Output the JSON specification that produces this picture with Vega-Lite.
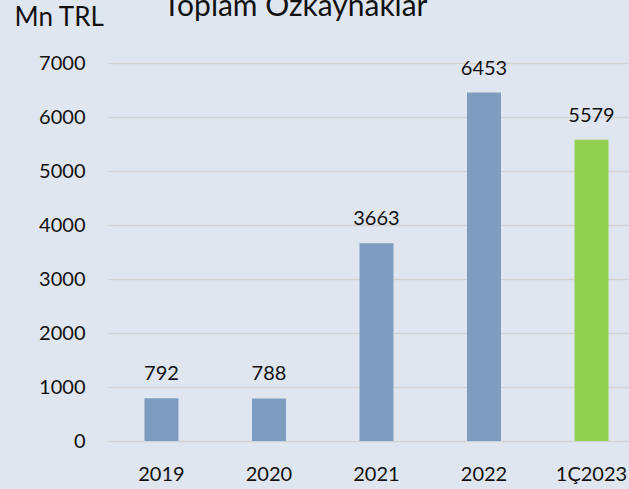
{
  "$schema": "https://vega.github.io/schema/vega-lite/v6.json",
  "autosize": "none",
  "width": 521,
  "height": 378,
  "padding": {"left": 108, "top": 63, "right": 0, "bottom": 48},
  "background": "#e0e6ef",
  "config": {
    "view": {"stroke": null},
    "font": "Lato",
    "axis": {"labelFont": "Lato", "titleFont": "Lato", "labelColor": "#111111", "titleColor": "#111111"}
  },
  "title": {
    "text": "Toplam Özkaynaklar",
    "anchor": "start",
    "frame": "group",
    "fontSize": 30,
    "font": "Lato",
    "fontWeight": "normal",
    "color": "#111111",
    "baseline": "alphabetic",
    "dx": 55,
    "dy": 42,
    "offset": 0
  },
  "data": {
    "values": [
      {"period": "2019", "value": 792, "type": "annual"},
      {"period": "2020", "value": 788, "type": "annual"},
      {"period": "2021", "value": 3663, "type": "annual"},
      {"period": "2022", "value": 6453, "type": "annual"},
      {"period": "1Ç2023", "value": 5579, "type": "quarter"}
    ]
  },
  "encoding": {
    "x": {
      "field": "period",
      "type": "nominal",
      "sort": null,
      "scale": {"paddingInner": 0.684, "paddingOuter": 0.265, "align": 0.64},
      "axis": {"title": null, "labelAngle": 0, "domain": false, "ticks": false, "labelFontSize": 20, "labelPadding": 23, "grid": false}
    },
    "y": {
      "field": "value",
      "type": "quantitative",
      "scale": {"domain": [0, 7000], "nice": false},
      "axis": {
        "title": "Mn TRL",
        "titleAngle": 0,
        "titleAlign": "left",
        "titleBaseline": "alphabetic",
        "titleX": -94,
        "titleY": -38,
        "titleFontSize": 26,
        "titleFontWeight": "normal",
        "values": [0, 1000, 2000, 3000, 4000, 5000, 6000, 7000],
        "format": "d",
        "domain": false,
        "ticks": false,
        "labelFontSize": 20,
        "labelPadding": 23,
        "grid": true,
        "gridColor": "#d2d2d2",
        "gridWidth": 1.6
      }
    }
  },
  "layer": [
    {
      "mark": {"type": "bar"},
      "encoding": {
        "color": {
          "field": "type",
          "type": "nominal",
          "scale": {"domain": ["annual", "quarter"], "range": ["#7e9cc0", "#92d050"]},
          "legend": null
        }
      }
    },
    {
      "mark": {"type": "text", "fontSize": 20, "baseline": "alphabetic", "dy": -18, "color": "#111111", "font": "Lato"},
      "encoding": {"text": {"field": "value", "type": "quantitative", "format": "d"}}
    }
  ]
}
